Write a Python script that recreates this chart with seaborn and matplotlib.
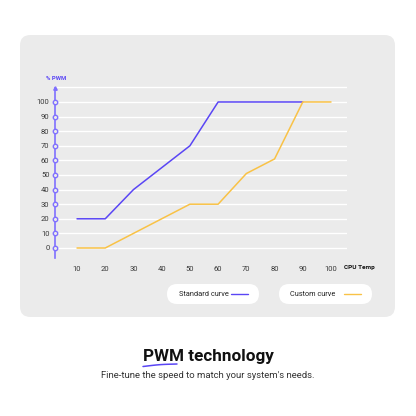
import numpy as np
import pandas as pd
import matplotlib
matplotlib.use("Agg")
import matplotlib.pyplot as plt
from matplotlib.patches import FancyBboxPatch
from matplotlib.lines import Line2D
import seaborn as sns

# Data kurva kipas
suhu_standar = [10, 20, 30, 50, 60, 90]
pwm_standar = [20, 20, 40, 70, 100, 100]
suhu_custom = [10, 20, 50, 60, 70, 80, 90, 100]
pwm_custom = [0, 0, 30, 30, 51, 61, 100, 100]
xticks = [10, 20, 30, 40, 50, 60, 70, 80, 90, 100]
yticks = [0, 10, 20, 30, 40, 50, 60, 70, 80, 90, 100]
nama_seri = ["Standard curve", "Custom curve"]

WARNA_STD = "#5a46f5"
WARNA_CUS = "#f9c246"
WARNA_AXIS = "#8070ff"
PANEL = "#ebebeb"

df = pd.concat([
    pd.DataFrame({"suhu": suhu_standar, "pwm": pwm_standar, "kurva": nama_seri[0]}),
    pd.DataFrame({"suhu": suhu_custom, "pwm": pwm_custom, "kurva": nama_seri[1]}),
])

sns.set_style("white")
plt.rcParams["font.family"] = ["Roboto", "DejaVu Sans"]

W = 416
fig = plt.figure(figsize=(4.16, 4.16), dpi=100)
fig.patch.set_facecolor("white")

def fx(px):
    return px / W

def fy(py):
    return 1 - py / W

# panel abu-abu (di belakang axes)
panel = FancyBboxPatch((fx(20), fy(317)), fx(375), 282 / W,
                       boxstyle="round,pad=0,rounding_size=0.025",
                       transform=fig.transFigure, facecolor=PANEL, edgecolor="none",
                       zorder=-5)
fig.add_artist(panel)

# axes
x0, x1 = 2.2, 105.67
y0, y1 = -6.85, 111.5
ax = fig.add_axes([fx(55), fy(258), fx(347 - 55), (258 - 85.2) / W])
ax.set_facecolor("none")
ax.set_xlim(x0, x1)
ax.set_ylim(y0, y1)

for y in yticks + [110]:
    ax.axhline(y, color="white", lw=1.0, zorder=0)

sns.lineplot(data=df, x="suhu", y="pwm", hue="kurva", palette=[WARNA_STD, WARNA_CUS],
             ax=ax, legend=False, lw=1.1, sort=False, zorder=3)

for s in ["top", "right", "bottom"]:
    ax.spines[s].set_visible(False)
ax.spines["left"].set_color(WARNA_AXIS)
ax.spines["left"].set_linewidth(1.2)
ax.spines["left"].set_bounds(y0, 109.6)

ax.plot([x0] * len(yticks), yticks, "o", ms=3.2, mfc=PANEL, mec=WARNA_AXIS, mew=1.0,
        clip_on=False, zorder=4)
ax.plot([x0], [109.6], "^", ms=2.5, color=WARNA_AXIS, clip_on=False, zorder=4)

ax.set_xticks(xticks)
ax.set_yticks(yticks)
ax.tick_params(axis="both", length=0, labelsize=5.5, labelcolor="#3a3a3a")
ax.tick_params(axis="y", pad=4)
ax.tick_params(axis="x", pad=6)
ax.set_xlabel("")
ax.set_ylabel("")

fig.text(fx(56), fy(78), "% PWM", color=WARNA_STD, fontsize=4.3, fontweight="bold",
         ha="center", va="center")
fig.text(fx(344), fy(267), "CPU Temp", color="#111111", fontsize=4.6, fontweight="bold",
         ha="left", va="center")

# legenda berbentuk pil
def pil(xa, xb, teks, xt, la, lb, warna):
    kotak = FancyBboxPatch((fx(xa), fy(304)), fx(xb - xa), 20 / W,
                           boxstyle="round,pad=0,rounding_size=0.024",
                           transform=fig.transFigure, facecolor="white", edgecolor="none")
    fig.add_artist(kotak)
    fig.text(fx(xt), fy(294), teks, fontsize=5.3, color="#222222", ha="left", va="center")
    fig.add_artist(Line2D([fx(la), fx(lb)], [fy(294), fy(294)], color=warna, lw=1.0,
                          transform=fig.transFigure))

pil(167, 259, nama_seri[0], 179, 231, 248, WARNA_STD)
pil(279, 372, nama_seri[1], 290, 344, 361, WARNA_CUS)

# judul
fig.text(0.5, fy(357), "PWM technology", fontsize=12.3, fontweight="bold", color="#111111",
         ha="center", va="center")
fig.text(0.5, fy(375), "Fine-tune the speed to match your system's needs.", fontsize=6.8,
         color="#333333", ha="center", va="center")
# garis lengkung di bawah "PWM"
t = np.linspace(0, 1, 30)
sx = 143 + 34 * t
sy = 366.5 - 1.2 * np.sin(np.pi * t) - 2.5 * t ** 2
fig.add_artist(Line2D(fx(sx), fy(sy), color=WARNA_STD, lw=1.1, transform=fig.transFigure,
                      solid_capstyle="round"))

fig.savefig("out.png", dpi=100)
